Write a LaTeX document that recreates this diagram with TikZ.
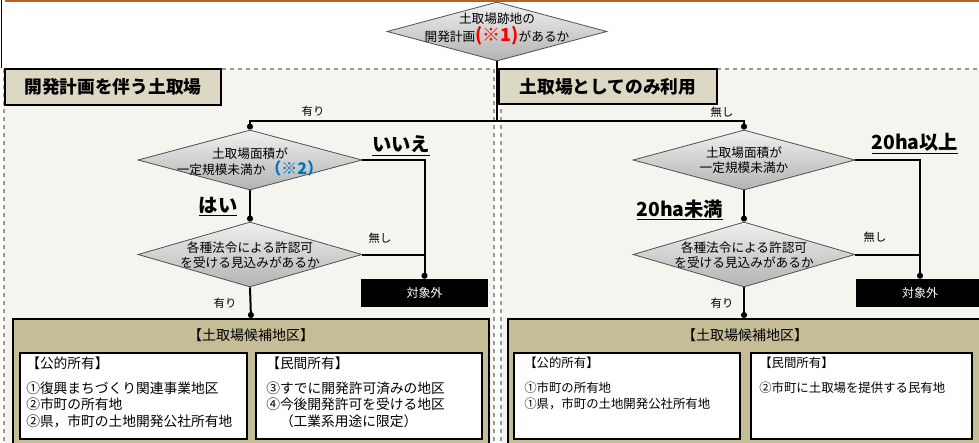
\documentclass[tikz,border=0pt]{standalone}
\usepackage{fontspec}
\setmainfont{Noto Sans CJK JP}
\usetikzlibrary{shapes.geometric,arrows.meta}
\definecolor{panelbg}{RGB}{245,244,239}
\definecolor{ttlbg}{RGB}{221,216,196}
\definecolor{candbg}{RGB}{196,189,150}
\definecolor{topline}{RGB}{185,95,40}
\definecolor{noteblue}{RGB}{0,112,192}
\definecolor{diaedge}{RGB}{80,80,80}

\begin{document}
\begin{tikzpicture}[x=0.75pt, y=-0.75pt]
  \tikzstyle{dia}=[diamond, draw=diaedge, line width=0.6pt, top color=black!6, bottom color=black!30, inner sep=0pt]
  \tikzstyle{txt}=[align=center, font=\fontsize{9.5}{11.5}\selectfont, inner sep=0pt]
  \tikzstyle{lbl}=[font=\fontsize{8.5}{10}\selectfont, inner sep=1pt]
  \tikzstyle{ans}=[font=\bfseries\fontsize{14.5}{16}\selectfont, inner sep=1pt]
  \tikzstyle{ttl}=[draw, line width=1.8pt, fill=ttlbg, font=\bfseries\fontsize{13.3}{15}\selectfont]
  \tikzstyle{panel}=[draw=black!40, dashed, line width=0.8pt, fill=panelbg]
  \tikzstyle{link}=[line width=1.5pt]
  \tikzstyle{excl}=[fill=black, text=white, font=\fontsize{9}{11}\selectfont]
  \tikzstyle{cand}=[draw, line width=1.8pt, fill=candbg]
  \tikzstyle{own}=[draw, line width=1.8pt, fill=white]
  \tikzstyle{lst}=[align=left, font=\fontsize{10.3}{12.4}\selectfont, inner sep=0pt, anchor=north west]

  \useasboundingbox (0,0) rectangle (979,443);
  \fill[white] (0,0) rectangle (979,443);

  % 枠と背景
  \draw[topline, line width=1.5pt] (5,1) -- (979,1);
  \draw[line width=1.2pt] (1.5,0) -- (1.5,68);
  \draw[panel] (4,69) rectangle (494,470);
  \draw[panel] (501,69) rectangle (990,470);
  \node[ttl, minimum width=162pt, minimum height=27pt] (h1) at (113,87) {開発計画を伴う土取場};
  \node[ttl, minimum width=163.5pt, minimum height=26.5pt] (h2) at (608,86.5) {土取場としてのみ利用};

  % 最初の判定
  \node[dia, minimum width=165pt, minimum height=44.25pt] (q0) at (497,31.5) {};
  \node[txt] (q0t) at (497,29) {土取場跡地の\\開発計画{\color{red}\bfseries\fontsize{13.5}{14}\selectfont (※1)}があるか};

  % 開発計画を伴う土取場
  \node[dia, minimum width=168pt, minimum height=45pt] (q1) at (250,160) {};
  \node[txt] (q1t) at (250,162) {土取場面積が\\一定規模未満か{\color{noteblue}\bfseries\fontsize{12}{12}\selectfont （※2）}};
  \node[dia, minimum width=168pt, minimum height=48.75pt] (q2) at (250,254.5) {};
  \node[txt] (q2t) at (250,255) {各種法令による許認可\\を受ける見込みがあるか};
  \node[excl, minimum width=95.25pt, minimum height=21pt] (x1) at (424.5,293) {対象外};

  % 土取場としてのみ利用
  \node[dia, minimum width=166.5pt, minimum height=45pt] (r1) at (744,160) {};
  \node[txt] (r1t) at (744,160) {土取場面積が\\一定規模未満か};
  \node[dia, minimum width=166.5pt, minimum height=48.75pt] (r2) at (744,254.5) {};
  \node[txt] (r2t) at (744,255) {各種法令による許認可\\を受ける見込みがあるか};
  \node[excl, minimum width=96pt, minimum height=21pt] (x2) at (920,293) {対象外};

  % 土取場候補地区
  \node[cand, minimum width=357pt, minimum height=112pt, anchor=north] (c1) at (251,318) {};
  \node[lst, anchor=center, font=\fontsize{10.5}{12}\selectfont] (c1t) at (251,335) {【土取場候補地区】};
  \node[own, minimum width=170pt, minimum height=64.5pt] (a1) at (133.5,396) {};
  \node[own, minimum width=169.5pt, minimum height=64.5pt] (b1) at (369,396) {};
  \node[lst] (a1t) at (26,357) {【公的所有】\\[6pt]①復興まちづくり関連事業地区\\②市町の所有地\\②県，市町の土地開発公社所有地};
  \node[lst] (b1t) at (266,357) {【民間所有】\\[6pt]③すでに開発許可済みの地区\\④今後開発許可を受ける地区\\\hspace*{1em}（工業系用途に限定）};

  \node[cand, minimum width=354pt, minimum height=112pt, anchor=north] (c2) at (744,318) {};
  \node[lst, anchor=center, font=\fontsize{10.5}{12}\selectfont] (c2t) at (745,335) {【土取場候補地区】};
  \node[own, minimum width=169.5pt, minimum height=64.5pt] (a2) at (627,396) {};
  \node[own, minimum width=165.75pt, minimum height=64.5pt] (b2) at (861.5,396) {};
  \node[lst, font=\fontsize{9.3}{12.4}\selectfont] (a2t) at (524,357) {【公的所有】\\[6pt]①市町の所有地\\①県，市町の土地開発公社所有地};
  \node[lst, font=\fontsize{9.3}{12.4}\selectfont] (b2t) at (759,357) {【民間所有】\\[6pt]②市町に土取場を提供する民有地};

  % 連結線
  \coordinate (fork) at (497,121);
  \draw[link] (q0.south) -- (fork);
  \draw[link, -{Circle[length=4.5pt]}] (fork) -| (q1.north);
  \draw[link, -{Circle[length=4.5pt]}] (fork) -| (r1.north);
  \draw[link, -{Circle[length=4.5pt]}] (q1.east) -| (x1.north);
  \draw[link] (q2.east) -- (q2.east -| x1.north);
  \draw[link, -{Circle[length=4.5pt]}] (q1.south) -- (q2.north);
  \draw[link, -{Circle[length=4.5pt]}] (q2.south) -- (c1.north);
  \draw[link, -{Circle[length=4.5pt]}] (r1.east) -| (x2.north);
  \draw[link] (r2.east) -- (r2.east -| x2.north);
  \draw[link, -{Circle[length=4.5pt]}] (r1.south) -- (r2.north);
  \draw[link, -{Circle[length=4.5pt]}] (r2.south) -- (c2.north);

  % 分岐のラベル
  \node[lbl] (y0) at (313,111) {有り};
  \node[lbl] (n0) at (722,112) {無し};
  \node[ans] (no1) at (401,146) {\underline{いいえ}};
  \node[ans] (yes1) at (218,207) {\underline{はい}};
  \node[lbl] (n1) at (380,238) {無し};
  \node[lbl] (y1) at (225,303) {有り};
  \node[ans] (no2) at (915,144) {\underline{20ha以上}};
  \node[ans] (yes2) at (680,210) {\underline{20ha未満}};
  \node[lbl] (n2) at (875,237) {無し};
  \node[lbl] (y2) at (722,303) {有り};
\end{tikzpicture}
\end{document}
